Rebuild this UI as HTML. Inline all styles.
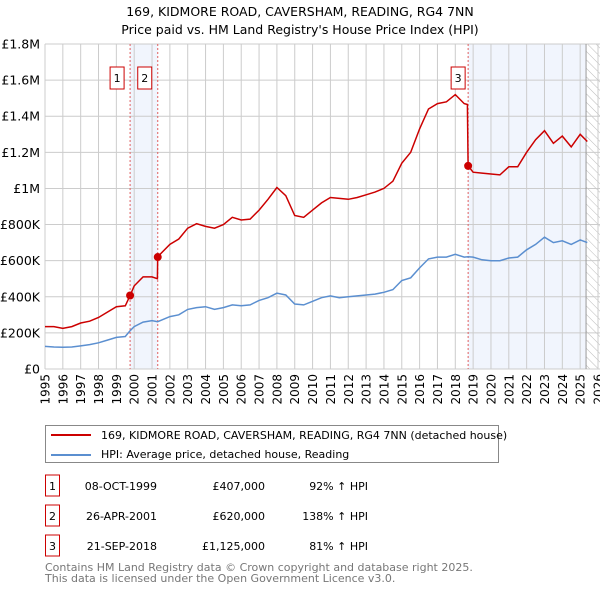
<!DOCTYPE html>
<html><head><meta charset="utf-8"><style>
body{margin:0;background:#fff;font-family:"Liberation Sans","DejaVu Sans",sans-serif;}
svg{display:block}
</style></head><body>
<svg width="600" height="590" xmlns="http://www.w3.org/2000/svg" font-family="DejaVu Sans, Liberation Sans, sans-serif">
<text x="300" y="16" text-anchor="middle" font-size="12.5">169, KIDMORE ROAD, CAVERSHAM, READING, RG4 7NN</text>
<text x="300" y="34" text-anchor="middle" font-size="12.5">Price paid vs. HM Land Registry's House Price Index (HPI)</text>
<defs><pattern id="hatch" width="6" height="6" patternUnits="userSpaceOnUse" patternTransform="rotate(-45)"><line x1="0" y1="0" x2="0" y2="6" stroke="#bbb" stroke-width="1"/></pattern>
<clipPath id="pc"><rect x="45" y="44" width="555" height="325"/></clipPath></defs>
<g id="plot"></g>
<g id="legend">
<rect x="45.5" y="425.5" width="453" height="37" fill="#fff" stroke="#888"/>
<line x1="51" y1="435" x2="91" y2="435" stroke="#cc0000" stroke-width="2"/>
<text x="101" y="439" font-size="11">169, KIDMORE ROAD, CAVERSHAM, READING, RG4 7NN (detached house)</text>
<line x1="51" y1="455" x2="91" y2="455" stroke="#5b8fd0" stroke-width="2"/>
<text x="101" y="458" font-size="11">HPI: Average price, detached house, Reading</text>
</g>
<g id="table" font-size="11"></g>
<text x="45" y="571" font-size="11" fill="#777">Contains HM Land Registry data © Crown copyright and database right 2025.</text>
<text x="45" y="582" font-size="11" fill="#777">This data is licensed under the Open Government Licence v3.0.</text>
</svg>
<script>
const hpiYears=[1995,1995.5,1996,1996.5,1997,1997.5,1998,1998.5,1999,1999.5,1999.77,2000,2000.5,2001,2001.32,2001.5,2002,2002.5,2003,2003.5,2004,2004.5,2005,2005.5,2006,2006.5,2007,2007.5,2008,2008.5,2009,2009.5,2010,2010.5,2011,2011.5,2012,2012.5,2013,2013.5,2014,2014.5,2015,2015.5,2016,2016.5,2017,2017.5,2018,2018.5,2018.72,2019,2019.5,2020,2020.5,2021,2021.5,2022,2022.5,2023,2023.5,2024,2024.5,2025,2025.4];
const hpiValues=[125,122,120,122,128,135,145,160,175,180,212,235,260,268,262,270,290,300,330,340,345,330,340,355,350,355,380,395,420,410,360,355,375,395,405,395,400,405,410,415,425,440,490,505,560,610,620,620,635,620,622,620,605,600,600,615,620,660,690,730,700,710,690,715,700];
const priceYears=[1995,1995.5,1996,1996.5,1997,1997.5,1998,1998.5,1999,1999.5,1999.77,2000,2000.5,2001,2001.3,2001.32,2001.5,2002,2002.5,2003,2003.5,2004,2004.5,2005,2005.5,2006,2006.5,2007,2007.5,2008,2008.5,2009,2009.5,2010,2010.5,2011,2011.5,2012,2012.5,2013,2013.5,2014,2014.5,2015,2015.5,2016,2016.5,2017,2017.5,2018,2018.5,2018.68,2018.72,2019,2019.5,2020,2020.5,2021,2021.5,2022,2022.5,2023,2023.5,2024,2024.5,2025,2025.4];
const priceValues=[235,235,225,235,255,265,285,315,345,350,407,460,510,510,500,620,640,690,720,780,805,790,780,800,840,825,830,880,940,1005,960,850,840,880,920,950,945,940,950,965,980,1000,1040,1140,1200,1330,1440,1470,1480,1520,1470,1465,1125,1090,1085,1080,1075,1120,1120,1200,1270,1320,1250,1290,1230,1300,1260];
const saleLabels=["1","2","3"];
const saleYears=[1999.77,2001.32,2018.72];
const saleValues=[407,620,1125];
const saleDates=["08-OCT-1999","26-APR-2001","21-SEP-2018"];
const salePrices=["£407,000","£620,000","£1,125,000"];
const saleHpi=["92% ↑ HPI","138% ↑ HPI","81% ↑ HPI"];
const yTicks=[0,200,400,600,800,1000,1200,1400,1600,1800];
const yTickLabels=["£0","£200K","£400K","£600K","£800K","£1M","£1.2M","£1.4M","£1.6M","£1.8M"];
const xTicks=[];for(let y=1995;y<=2026;y++)xTicks.push(y);
const dataEnd=2025.33;

const NS="http://www.w3.org/2000/svg";
const X=y=>45+(y-1995)*(553/31);
const Y=v=>369-v*(325/1800);
function mk(tag,attrs,parent){const e=document.createElementNS(NS,tag);for(const k in attrs)e.setAttribute(k,attrs[k]);parent.appendChild(e);return e;}
const plot=document.getElementById('plot');
let r;
r=mk('rect',{x:X(saleYears[0]),y:44,width:X(saleYears[1])-X(saleYears[0]),height:325,fill:'#eef3fc',opacity:0.8},plot);


r=mk('rect',{x:X(saleYears[2]),y:44,width:X(dataEnd)-X(saleYears[2]),height:325,fill:'#eef3fc',opacity:0.8},plot);


r=mk('rect',{x:X(dataEnd),y:44,width:600-X(dataEnd),height:325,fill:'url(#hatch)'},plot);


xTicks.forEach(t=>{const l=mk('line',{x1:X(t),x2:X(t),y1:44,y2:369,stroke:'#ccc'},plot);


const tx=mk('text',{x:0,y:0,'text-anchor':'end','font-size':'12',transform:'translate('+(X(t)+4.5)+',374) rotate(-90)'},plot);tx.textContent=t;

});
yTicks.forEach((t,i)=>{const l=mk('line',{x1:45,x2:600,y1:Y(t),y2:Y(t),stroke:'#ccc'},plot);


const tx=mk('text',{x:40,y:Y(t)+4.5,'text-anchor':'end','font-size':'12.5'},plot);tx.textContent=yTickLabels[i];

});
const ed=mk('line',{x1:X(dataEnd),x2:X(dataEnd),y1:44,y2:369,stroke:'#999'},plot);


saleYears.forEach((s,i)=>{const l=mk('line',{x1:X(s),x2:X(s),y1:44,y2:369,stroke:'#e06060','stroke-dasharray':'2,2'},plot);

});
const pts=(xs,vs)=>xs.map((x,i)=>X(x).toFixed(1)+','+Y(vs[i]).toFixed(1)).join(' ');
const hl=mk('polyline',{points:pts(hpiYears,hpiValues),fill:'none',stroke:'#5b8fd0','stroke-width':1.5,'clip-path':'url(#pc)'},plot);


const pl=mk('polyline',{points:pts(priceYears,priceValues),fill:'none',stroke:'#cc0000','stroke-width':1.5,'clip-path':'url(#pc)'},plot);


saleYears.forEach((s,i)=>{const c=mk('circle',{cx:X(s),cy:Y(saleValues[i]),r:4,fill:'#cc0000'},plot);


const bx=X(s)-10-(i<2?3:0);
const b=mk('rect',{x:bx-7,y:67,width:14,height:22,fill:'#fff',stroke:'#cc0000'},plot);


const t=mk('text',{x:bx,y:82,'text-anchor':'middle','font-size':'11'},plot);t.textContent=saleLabels[i];

});
const tbl=document.getElementById('table');
saleLabels.forEach((s,i)=>{const cy=486+i*30;
const b=mk('rect',{x:45.5,y:cy-11,width:14,height:21,fill:'#fff',stroke:'#cc0000'},tbl);


const cells=[[52.5,'middle',s],[157,'end',saleDates[i]],[265,'end',salePrices[i]],[368,'end',saleHpi[i]]];
cells.forEach((c,j)=>{const t=mk('text',{x:c[0],y:cy+4,'text-anchor':c[1]},tbl);t.textContent=c[2];

});});
</script>
</body></html>
